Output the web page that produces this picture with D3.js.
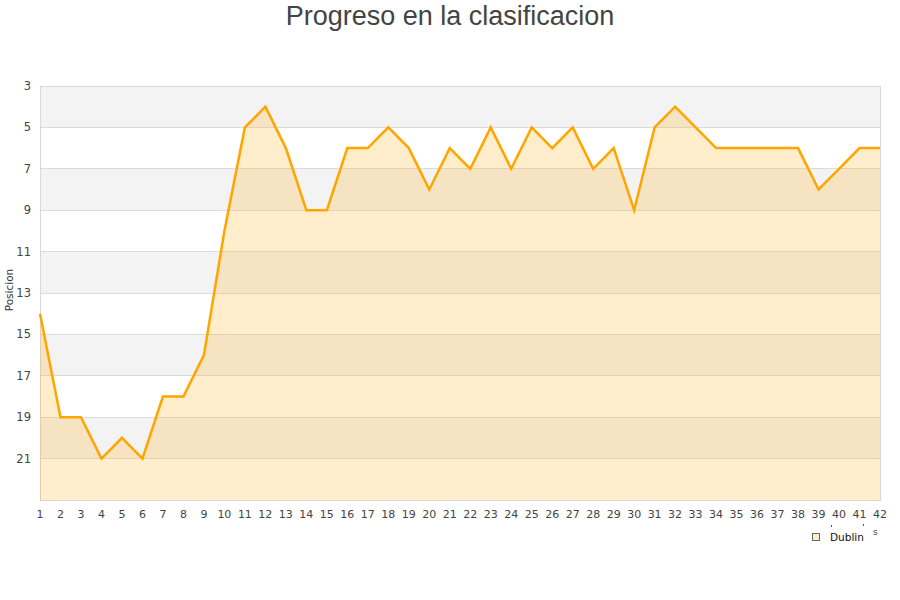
<!DOCTYPE html>
<html><head><meta charset="utf-8">
<script src="https://cdn.jsdelivr.net/npm/d3@7"></script>
<style>body{margin:0;background:#fff;} svg{display:block;}</style>
</head><body>
<svg id="c" width="900" height="600"></svg>
<script>
const title = "Progreso en la clasificacion";
const yLabel = "Posicion";
const seriesName = "Dublin";
const jornadas = d3.range(1, 43);
const posiciones = [14,19,19,21,20,21,18,18,16,10,5,4,6,9,9,6,6,5,6,8,6,7,5,7,5,6,5,7,6,9,5,4,5,6,6,6,6,6,8,7,6,6];
const yTicks = [3,5,7,9,11,13,15,17,19,21];

const svg = d3.select("#c");
const m = {l:40, r:880, t:86, b:500};
const x = d3.scaleLinear().domain([1,42]).range([m.l, m.r]);
const y = d3.scaleLinear().domain([3,23]).range([m.t, m.b]);

// bands
const bands = [3,7,11,15,19];
svg.selectAll("rect.band").data(bands).enter().append("rect")
  .attr("x", m.l).attr("width", m.r-m.l)
  .attr("y", d=>y(d)).attr("height", d=>y(d+2)-y(d))
  .attr("fill", "#f3f3f3");

// grid
svg.selectAll("line.grid").data(yTicks.slice(1)).enter().append("line")
  .attr("x1", m.l).attr("x2", m.r).attr("y1", d=>y(d)).attr("y2", d=>y(d))
  .attr("stroke", "#dcdcdc").attr("stroke-width", 1).attr("shape-rendering","crispEdges");

// frame
svg.append("rect").attr("x", m.l).attr("y", m.t).attr("width", m.r-m.l).attr("height", m.b-m.t)
  .attr("fill","none").attr("stroke","#d8d8d8").attr("shape-rendering","crispEdges");

const data = jornadas.map((j,i)=>({j, p:posiciones[i]}));
svg.append("path").datum(data)
  .attr("d", d3.area().x(d=>x(d.j)).y0(y(23)).y1(d=>y(d.p)))
  .attr("fill", "#ffa500").attr("fill-opacity", 0.2);
svg.append("path").datum(data)
  .attr("d", d3.line().x(d=>x(d.j)).y(d=>y(d.p)))
  .attr("fill", "none").attr("stroke", "#ffa500").attr("stroke-width", 2.5)
  .attr("stroke-linejoin","miter");

// y axis labels
svg.selectAll("text.yt").data(yTicks).enter().append("text")
  .attr("x", 31).attr("y", d=>y(d)+4).attr("text-anchor","end")
  .attr("font-family","DejaVu Sans").attr("font-size", 11.5).attr("fill","#444")
  .text(d=>d);

// x axis labels
svg.selectAll("text.xt").data(jornadas).enter().append("text")
  .attr("x", d=>x(d)).attr("y", 518).attr("text-anchor","middle")
  .attr("font-family","DejaVu Sans").attr("font-size", 11).attr("fill","#444")
  .text(d=>d);

// y label
svg.append("text").attr("transform","translate(13,290) rotate(-90)")
  .attr("text-anchor","middle").attr("font-family","DejaVu Sans").attr("font-size",10.5)
  .attr("fill","#333").text(yLabel);

// title
svg.append("text").attr("x",450).attr("y",25).attr("text-anchor","middle")
  .attr("font-family","Liberation Sans, Arial, sans-serif").attr("font-size",27)
  .attr("fill","#444").text(title);

// legend
svg.append("rect").attr("x",812.5).attr("y",533.5).attr("width",7).attr("height",7)
  .attr("fill","#ffedcc").attr("stroke","#666");
svg.append("text").attr("x",830).attr("y",541).attr("font-family","DejaVu Sans")
  .attr("font-size",10.5).attr("font-weight","normal").attr("fill","#111").text(seriesName);
svg.append("text").attr("x",873).attr("y",535).attr("font-family","DejaVu Sans")
  .attr("font-size",9).attr("fill","#444").text("s");
svg.append("rect").attr("x",831).attr("y",525).attr("width",1).attr("height",2).attr("fill","#555");
svg.append("rect").attr("x",863).attr("y",524).attr("width",1).attr("height",2).attr("fill","#555");
</script>
</body></html>
